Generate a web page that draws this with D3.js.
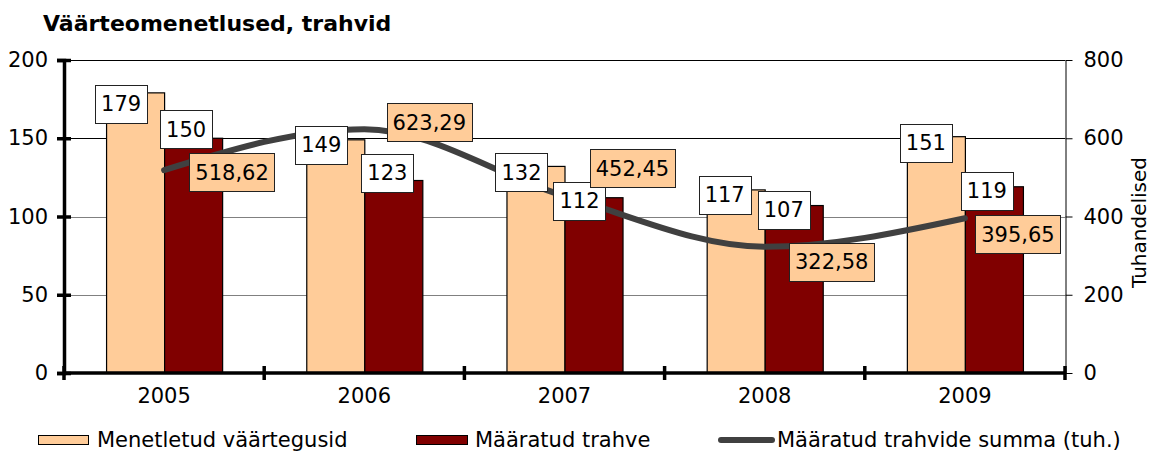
<!DOCTYPE html>
<html>
<head>
<meta charset="utf-8">
<script src="https://cdn.jsdelivr.net/npm/d3@7"></script>
<style>
  body { margin: 0; background: #fff; }
  text { font-family: "DejaVu Sans", Verdana, sans-serif; fill: #000; }
</style>
</head>
<body>
<div id="container"></div>
<script>
// chart data
var years = ["2005", "2006", "2007", "2008", "2009"];
var menetletud = [179, 149, 132, 117, 151];      // Menetletud väärtegusid
var maaratud = [150, 123, 112, 107, 119];        // Määratud trahve
var summa = [518.62, 623.29, 452.45, 322.58, 395.65]; // Määratud trahvide summa (tuh.)
var leftTicks = [0, 50, 100, 150, 200];
var rightTicks = [0, 200, 400, 600, 800];
var seriesNames = ["Menetletud väärtegusid", "Määratud trahve", "Määratud trahvide summa (tuh.)"];

// label nudges (px) relative to bar top / line point, as placed in the original
var nudgeA = [[-14, 11], [-14, 5], [-14, 6], [-11, 5], [-10, 6]];
var nudgeB = [[-7, -9], [-6, -8], [-14, 3], [-10, 4], [-7, 4]];
var nudgeS = [[68, 2], [65, -7], [68, -28], [67, 15], [53, 16]];

// dimensions
var width = 1152, height = 452;
var plot = {left: 64, right: 1065, top: 60, bottom: 373};
var fs = 21;

var svg = d3.select("#container").append("svg")
    .attr("width", width)
    .attr("height", height);

// scales
var x = d3.scaleBand().domain(years).range([plot.left, plot.right]).padding(0);
var xSub = d3.scaleBand().domain(["a", "b"]).range([0, x.bandwidth()]).paddingInner(0).paddingOuter(0.725);
var y = d3.scaleLinear().domain([0, 200]).range([plot.bottom, plot.top]);
var y2 = d3.scaleLinear().domain([0, 800]).range([plot.bottom, plot.top]);

var colors = {a: "#FFCC99", b: "#800000", line: "#404040"};

// title
svg.append("text")
    .attr("x", 43).attr("y", 31)
    .style("font-weight", "bold")
    .style("font-size", "22px")
    .text("Väärteomenetlused, trahvid");

// gridlines
svg.append("g").selectAll("line")
    .data(leftTicks.filter(function(d){ return d > 0; }))
    .enter().append("line")
    .attr("x1", plot.left).attr("x2", plot.right)
    .attr("y1", function(d){ return Math.round(y(d)) + 0.5; })
    .attr("y2", function(d){ return Math.round(y(d)) + 0.5; })
    .attr("stroke", function(d){ return d >= 150 ? "#000" : "#808080"; })
    .attr("stroke-width", 1);

// bars
var groups = svg.append("g").selectAll("g")
    .data(years)
    .enter().append("g")
    .attr("transform", function(d){ return "translate(" + x(d) + ",0)"; });

groups.selectAll("rect")
    .data(function(d, i){ return [{key: "a", value: menetletud[i]}, {key: "b", value: maaratud[i]}]; })
    .enter().append("rect")
    .attr("x", function(d){ return xSub(d.key) + 0.5; })
    .attr("y", function(d){ return y(d.value); })
    .attr("width", xSub.bandwidth())
    .attr("height", function(d){ return y(0) - y(d.value); })
    .attr("fill", function(d){ return colors[d.key]; })
    .attr("stroke", "#000")
    .attr("stroke-width", 1.2);

// line (secondary axis)
var lineData = years.map(function(d, i){ return {year: d, value: summa[i]}; });
var line = d3.line()
    .x(function(d){ return x(d.year) + x.bandwidth() / 2; })
    .y(function(d){ return y2(d.value); })
    .curve(d3.curveMonotoneX);

svg.append("path")
    .datum(lineData)
    .attr("d", line)
    .attr("fill", "none")
    .attr("stroke", colors.line)
    .attr("stroke-width", 6)
    .attr("stroke-linecap", "round");

// left axis
var leftAxis = svg.append("g")
    .attr("transform", "translate(" + plot.left + ",0)")
    .call(d3.axisLeft(y).tickValues(leftTicks).tickSize(7).tickPadding(9));
leftAxis.select(".domain").attr("stroke", "#000").attr("stroke-width", 3.5);
leftAxis.selectAll(".tick line").attr("x1", 7).attr("stroke", "#000").attr("stroke-width", 3.5);
leftAxis.selectAll(".tick text").style("font-size", fs + "px").attr("font-family", null);

// right axis
var rightAxis = svg.append("g")
    .attr("transform", "translate(" + (plot.right + 0.5) + ",0)")
    .call(d3.axisRight(y2).tickValues(rightTicks).tickSize(7).tickPadding(11).tickSizeOuter(0));
rightAxis.select(".domain").attr("stroke", "#000").attr("stroke-width", 1);
rightAxis.selectAll(".tick line").attr("stroke", "#000");
rightAxis.selectAll(".tick text").style("font-size", fs + "px").attr("font-family", null);

svg.append("text")
    .attr("transform", "translate(1146," + ((plot.top + plot.bottom) / 2 + 6) + ") rotate(-90)")
    .attr("text-anchor", "middle")
    .style("font-size", "20px")
    .text("Tuhandelised");

// bottom axis: labels at centres, ticks at band edges
var bottomAxis = svg.append("g")
    .attr("transform", "translate(0," + plot.bottom + ")")
    .call(d3.axisBottom(x).tickSize(0).tickPadding(15));
bottomAxis.select(".domain").remove();
bottomAxis.selectAll(".tick text").style("font-size", fs + "px").attr("font-family", null);

var edges = years.map(function(d){ return x(d); }).concat([plot.right]);
svg.append("line")
    .attr("x1", plot.left - 1).attr("x2", plot.right + 1)
    .attr("y1", plot.bottom).attr("y2", plot.bottom)
    .attr("stroke", "#000").attr("stroke-width", 3.5);
svg.append("g").selectAll("line")
    .data(edges)
    .enter().append("line")
    .attr("x1", function(d){ return d; }).attr("x2", function(d){ return d; })
    .attr("y1", plot.bottom - 7).attr("y2", plot.bottom + 7)
    .attr("stroke", "#000").attr("stroke-width", 3.5);

// data labels
function addLabel(cx, cy, txt, fill) {
    var g = svg.append("g");
    var t = g.append("text")
        .attr("x", cx).attr("y", cy)
        .attr("text-anchor", "middle")
        .attr("dy", "0.36em")
        .style("font-size", fs + "px")
        .text(txt);
    var bb = t.node().getBBox();
    g.insert("rect", "text")
        .attr("x", Math.round(cx - bb.width / 2 - 6) + 0.5)
        .attr("y", Math.round(cy - 19) + 0.5)
        .attr("width", Math.round(bb.width + 12))
        .attr("height", 38)
        .attr("fill", fill)
        .attr("stroke", "#222")
        .attr("stroke-width", 1);
}

years.forEach(function(d, i){
    var xa = x(d) + xSub("a") + xSub.bandwidth() / 2;
    var xb = x(d) + xSub("b") + xSub.bandwidth() / 2;
    addLabel(xa + nudgeA[i][0], y(menetletud[i]) + nudgeA[i][1], menetletud[i], "#fff");
    addLabel(xb + nudgeB[i][0], y(maaratud[i]) + nudgeB[i][1], maaratud[i], "#fff");
});
years.forEach(function(d, i){
    var cx = x(d) + x.bandwidth() / 2;
    addLabel(cx + nudgeS[i][0], y2(summa[i]) + nudgeS[i][1], d3.format(".2f")(summa[i]).replace(".", ","), "#FFCC99");
});

// legend
var legend = svg.append("g");
var legX = [38, 416, 718];
legend.append("rect").attr("x", legX[0] + 0.5).attr("y", 435.5).attr("width", 50).attr("height", 9)
    .attr("fill", colors.a).attr("stroke", "#000").attr("stroke-width", 1);
legend.append("rect").attr("x", legX[1] + 0.5).attr("y", 435.5).attr("width", 51).attr("height", 9)
    .attr("fill", colors.b).attr("stroke", "#000").attr("stroke-width", 1);
legend.append("line").attr("x1", legX[2] + 3).attr("x2", legX[2] + 54).attr("y1", 440).attr("y2", 440)
    .attr("stroke", colors.line).attr("stroke-width", 6).attr("stroke-linecap", "round");
var legTextX = [97, 475, 777];
legend.selectAll("text")
    .data(seriesNames)
    .enter().append("text")
    .attr("x", function(d, i){ return legTextX[i]; })
    .attr("y", 447)
    .style("font-size", fs + "px")
    .text(function(d){ return d; });
</script>
</body>
</html>
